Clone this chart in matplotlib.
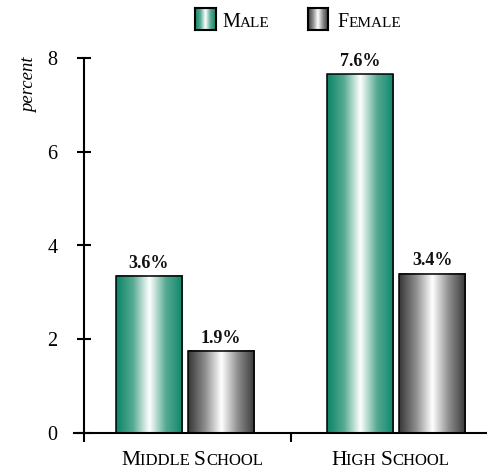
import numpy as np
import matplotlib
matplotlib.use("Agg")
import matplotlib.pyplot as plt
from matplotlib.colors import LinearSegmentedColormap
from matplotlib.transforms import IdentityTransform

# ---------------- data ----------------
categories = ["Middle School", "High School"]
series_names = ["Male", "Female"]
male_values = [3.35, 7.65]      # bar heights as drawn
female_values = [1.75, 3.4]
male_labels = ["3.6%", "7.6%"]  # printed labels
female_labels = ["1.9%", "3.4%"]
yticks = [0, 2, 4, 6, 8]

W, H = 487, 469
FONT = "Liberation Serif"
plt.rcParams["font.family"] = [FONT, "DejaVu Serif"]

fig = plt.figure(figsize=(W / 100, H / 100), dpi=100)
ax = fig.add_axes([74 / W, (H - 433) / H, (487 - 74) / W, (433 - 58) / H])

green_cmap = LinearSegmentedColormap.from_list(
    "g", [(0, "#0a8466"), (0.25, "#55a991"), (0.5, "#ffffff"),
          (0.75, "#55a991"), (1, "#0c876a")], N=256)
gray_cmap = LinearSegmentedColormap.from_list(
    "k", [(0, "#363636"), (0.25, "#8c8c8c"), (0.5, "#ffffff"),
          (0.75, "#8c8c8c"), (1, "#383838")], N=256)
grad = np.linspace(0, 1, 256).reshape(1, -1)

x = np.arange(len(categories))
width = 0.313
offset = 0.171

def gradient_bars(xs, vals, cmap):
    bars = ax.bar(xs, vals, width, facecolor="none", edgecolor="black",
                  linewidth=1.1, zorder=3)
    for b in bars:
        x0, y0 = b.get_x(), b.get_y()
        ax.imshow(grad, cmap=cmap, aspect="auto", zorder=2,
                  extent=[x0, x0 + b.get_width(), y0, y0 + b.get_height()],
                  interpolation="bilinear")
    return bars

mb = gradient_bars(x - offset, male_values, green_cmap)
fb = gradient_bars(x + offset, female_values, gray_cmap)

for bars, labs in ((mb, male_labels), (fb, female_labels)):
    for b, lab in zip(bars, labs):
        ax.annotate(lab, (b.get_x() + b.get_width() / 2, b.get_height()),
                    xytext=(0, 3.0), textcoords="offset points",
                    ha="center", va="bottom", fontsize=13,
                    fontweight="bold", color="#111111")

yaxis_x = -0.479
ax.set_xlim(-0.526, 1.431)
ax.set_ylim(0, 8)
for s in ("top", "right"):
    ax.spines[s].set_visible(False)
ax.spines["left"].set_position(("data", yaxis_x))
ax.spines["left"].set_linewidth(1.5)
ax.spines["bottom"].set_linewidth(1.5)

ax.set_yticks(yticks)
ax.set_yticklabels([str(t) for t in yticks])
ax.tick_params(axis="y", direction="inout", length=9.4, width=1.5,
               pad=14.5, labelsize=14.5)
ax.set_xticks([yaxis_x, 0.5])
ax.set_xticklabels(["", ""])
ax.tick_params(axis="x", direction="out", length=6.5, width=1.5)

# y label
fig.text(30, H - 85, "percent", transform=IdentityTransform(),
         rotation=90, ha="center", va="center", fontsize=13.5, style="italic")

renderer = fig.canvas.get_renderer()

def smallcaps(xp, yp, text, big, small, ha="left"):
    runs = []
    for ch in text:
        if ch.isupper():
            runs.append((ch, big))
        else:
            size = small
            if runs and runs[-1][1] == size:
                runs[-1] = (runs[-1][0] + ch.upper(), size)
            else:
                runs.append((ch.upper(), size))
    objs = []
    widths = []
    for s, sz in runs:
        t = fig.text(0, 0, s, transform=IdentityTransform(), fontsize=sz,
                     ha="left", va="baseline")
        objs.append(t)
        widths.append(t.get_window_extent(renderer).width)
    total = sum(widths)
    start = xp - total / 2 if ha == "center" else xp
    cx = start
    for t, w in zip(objs, widths):
        t.set_position((cx, H - yp))
        cx += w

# category labels
smallcaps(192, 465, categories[0], 15.5, 12, ha="center")
smallcaps(390, 465, categories[1], 15.5, 12, ha="center")

# legend
def swatch(x0, x1, y0, y1, cmap):
    a = fig.add_axes([x0 / W, (H - y1) / H, (x1 - x0) / W, (y1 - y0) / H])
    a.imshow(grad, cmap=cmap, aspect="auto", interpolation="bilinear")
    a.set_xticks([]); a.set_yticks([])
    for s in a.spines.values():
        s.set_linewidth(1.5)

swatch(195, 216, 8, 30, green_cmap)
swatch(308, 328, 8, 30, gray_cmap)
smallcaps(222, 27, series_names[0], 14.5, 11)
smallcaps(337, 27, series_names[1], 14.5, 11)

fig.savefig("out.png", dpi=100)
